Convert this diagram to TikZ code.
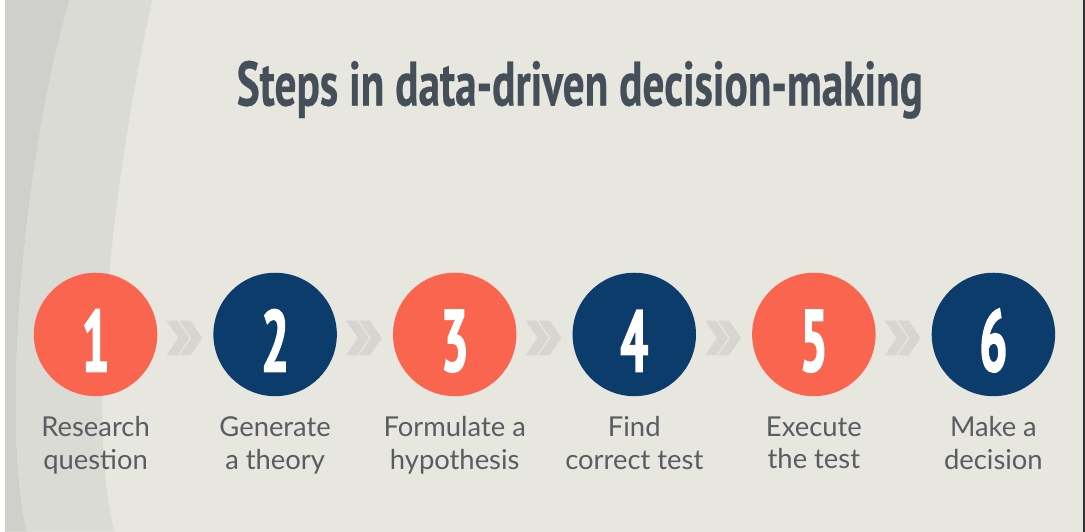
\documentclass[tikz,border=0pt]{standalone}
\usepackage{fontspec}
\setmainfont{Lato}
\newfontfamily\titlefont[FakeStretch=0.69,FakeBold=0.4]{PT Sans}
\newfontfamily\digitfont[FakeStretch=0.56,FakeBold=1.6]{PT Sans}
\usetikzlibrary{positioning,calc}
\definecolor{bgmain}{RGB}{231,230,223}
\definecolor{bgmid}{RGB}{219,219,213}
\definecolor{bgdark}{RGB}{207,208,203}
\definecolor{stepred}{RGB}{250,101,80}
\definecolor{stepblue}{RGB}{11,60,108}
\definecolor{titlegray}{RGB}{68,79,90}
\definecolor{labelgray}{RGB}{88,93,97}
\definecolor{chevgray}{RGB}{214,213,207}

\begin{document}
\begin{tikzpicture}[x=1pt,y=-1pt]
    \tikzset{red node/.style = {circle, fill=stepred, minimum size=124pt, inner sep=0pt,
                 text=white, text height=75pt, font=\digitfont\bfseries\fontsize{88}{88}\selectfont},
             blue node/.style = {red node, fill=stepblue},
             caption/.style = {align=center, inner sep=0pt, text=labelgray,
                 font=\fontsize{27.5}{33}\selectfont}}
    % background with the curved bands on the left
    \fill[bgmain] (0,0) rectangle (1085,534);
    \fill[bgdark] (0,0) -- (65,0) .. controls (20,150) and (-5,420) .. (22,534) -- (0,534) -- cycle;
    \fill[bgmid] (65,0) -- (148,0) .. controls (110,170) and (80,420) .. (110,534)
        -- (22,534) .. controls (-5,420) and (20,150) .. (65,0);
    \fill[black!80] (1083,0) rectangle (1085,534);
    \useasboundingbox (0,0) rectangle (1085,534);

    \node[anchor=base, text=titlegray, font=\titlefont\bfseries\fontsize{63}{63}\selectfont]
        (title) at (577.5,106) {Steps in data-driven decision-making};

    \node[red node] (s1) at (91,336) {1};
    \node[blue node] (s2) [right = 56pt of s1] {2};
    \node[red node] (s3) [right = 56pt of s2] {3};
    \node[blue node] (s4) [right = 56pt of s3] {4};
    \node[red node] (s5) [right = 56pt of s4] {5};
    \node[blue node] (s6) [right = 56pt of s5] {6};

    \node[caption] (c1) [below = 20pt of s1] {Research\\question};
    \node[caption] (c2) [below = 20pt of s2] {Generate\\a theory};
    \node[caption] (c3) [below = 20pt of s3] {Formulate a\\hypothesis};
    \node[caption] (c4) [below = 20pt of s4] {Find\\correct test};
    \node[caption] (c5) [below = 20pt of s5] {Execute\\the test};
    \node[caption] (c6) [below = 20pt of s6] {Make a\\decision};

    % double chevrons between the steps
    \foreach \a/\b in {s1/s2, s2/s3, s3/s4, s4/s5, s5/s6} {
        \foreach \dx in {-19,-6}
            \fill[chevgray] ($(\a)!0.5!(\b)$) ++(\dx,-14) -- ++(11,0) -- ++(12,17.5)
                -- ++(-12,17.5) -- ++(-11,0) -- ++(12,-17.5) -- cycle;
    }
\end{tikzpicture}
\end{document}
